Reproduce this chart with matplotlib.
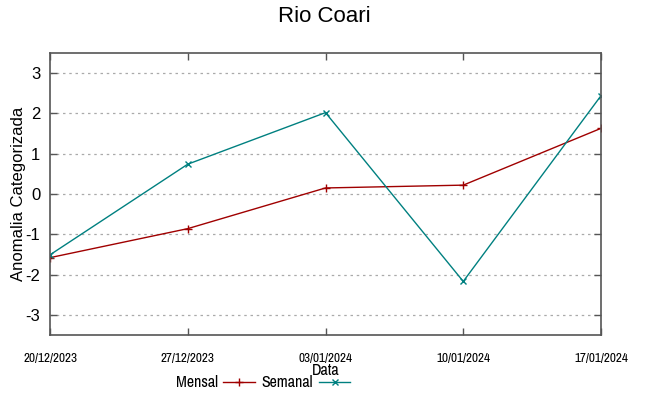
#!/usr/bin/env python3

import matplotlib
matplotlib.use("Agg")
import matplotlib.dates as mdates
import matplotlib.pyplot as plt
from matplotlib import font_manager
import pandas as pd


DATES = ["20/12/2023", "27/12/2023", "03/01/2024", "10/01/2024", "17/01/2024"]
MENSAL = [-1.58, -0.86, 0.15, 0.22, 1.63]
SEMANAL = [-1.51, 0.74, 2.02, -2.17, 2.44]
Y_TICKS = [-3, -2, -1, 0, 1, 2, 3]


def narrow_font() -> dict:
    # prefer a real narrow face; otherwise a condensed one
    for f in font_manager.fontManager.ttflist:
        if "Narrow" in f.name:
            return {"family": f.name}
    for f in font_manager.fontManager.ttflist:
        if "Condensed" in f.fname and f.name == "DejaVu Sans":
            return {"family": "DejaVu Sans", "stretch": "condensed"}
    return {"family": "Liberation Sans"}


def main() -> None:
    plt.rcParams.update({
        "font.family": ["Liberation Sans", "DejaVu Sans"],
        "axes.unicode_minus": False,
    })
    narrow = narrow_font()
    dates = pd.to_datetime(DATES, format="%d/%m/%Y")

    fig = plt.figure(figsize=(6.49, 3.96), dpi=100)
    ax = fig.add_axes([50 / 649, 1 - 335 / 396, 551 / 649, 282 / 396])

    ax.plot(dates, MENSAL, color="#a00000", linewidth=1.0, marker="+",
            markersize=6, markeredgewidth=1.0, label="Mensal")
    ax.plot(dates, SEMANAL, color="#008080", linewidth=1.0, marker="x",
            markersize=5, markeredgewidth=1.0, label="Semanal")

    ax.set_xlim(dates[0], dates[-1])
    ax.set_ylim(-3.5, 3.5)
    ax.set_xticks(dates)
    ax.xaxis.set_major_formatter(mdates.DateFormatter("%d/%m/%Y"))
    ax.set_yticks(Y_TICKS)
    ax.tick_params(direction="in", top=True, right=True, length=5, width=1,
                   color="#555555")
    ax.tick_params(axis="x", labelsize=9.5, pad=13)
    for lbl in ax.get_xticklabels():
        lbl.set(**narrow)
    ax.tick_params(axis="y", labelsize=12, pad=7)
    ax.grid(axis="y", color="#aaaaaa", linestyle=(0, (2, 3)), linewidth=0.9)
    for spine in ax.spines.values():
        spine.set_color("#555555")
        spine.set_linewidth(1.2)

    ax.set_ylabel("Anomalia Categorizada", fontsize=12)
    ax.yaxis.set_label_coords(-24 / 551, 0.5)
    ax.set_xlabel("Data", fontsize=11.5, **narrow)
    ax.xaxis.set_label_coords(0.5, -28 / 282)

    fig.suptitle("Rio Coari", fontsize=16, y=0.985)

    fig.legend(loc="lower center", bbox_to_anchor=(263 / 649, -0.022), ncol=2,
               frameon=False, markerfirst=False, prop={**narrow, "size": 11.5},
               handlelength=2.0, handletextpad=0.35, columnspacing=0.4)

    fig.savefig("out.png", dpi=100)
    plt.close(fig)


if __name__ == "__main__":
    main()
